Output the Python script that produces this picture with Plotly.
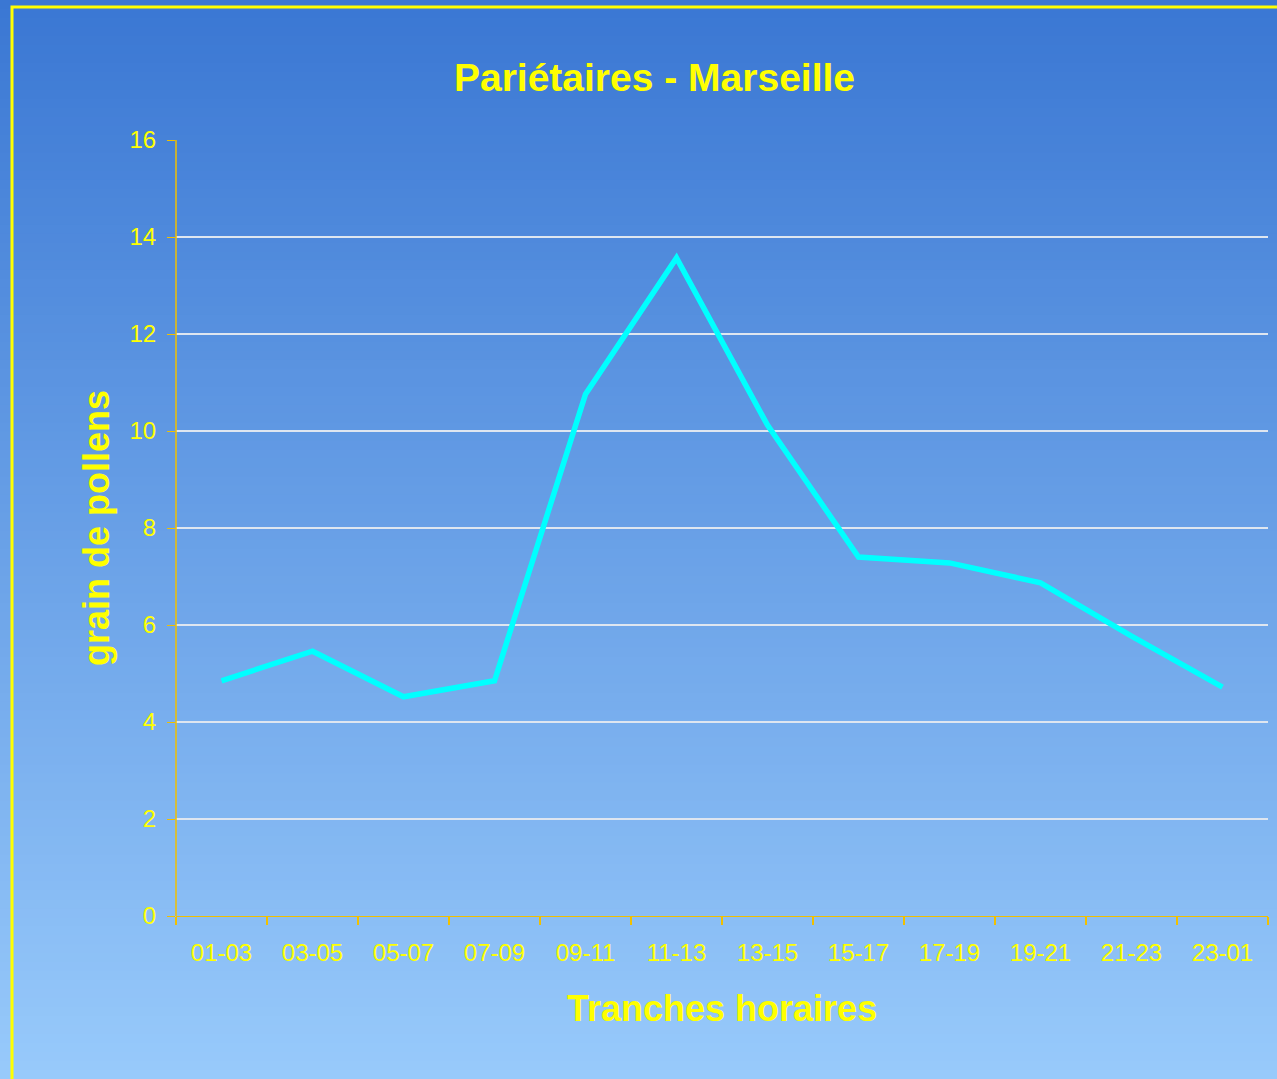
import plotly.graph_objects as go

categories = ["01-03", "03-05", "05-07", "07-09", "09-11", "11-13",
              "13-15", "15-17", "17-19", "19-21", "21-23", "23-01"]
pollen_values = [4.85, 5.46, 4.52, 4.85, 10.76, 13.57, 10.12, 7.40, 7.28, 6.87, 5.77, 4.72]

title_text = "Pariétaires - Marseille"
x_title = "Tranches horaires"
y_title = "grain de pollens"

W, H = 1277, 1079
L, R, T, B = 176, 1268, 140, 916
PW, PH = R - L, B - T

def px_x(px):
    return (px - L) / PW

def px_y(py):
    return (B - py) / PH

FONT = "Arial, 'Liberation Sans', sans-serif"
YEL = "#ffff00"
AXC = "#f0c000"

ncat = len(categories)
boundaries = [i - 0.5 for i in range(ncat + 1)]

fig = go.Figure()
fig.add_trace(go.Scatter(
    x=categories, y=pollen_values, mode="lines",
    line=dict(color="#00ffff", width=5.5),
    showlegend=False, hoverinfo="skip",
))
# invisible trace to carry the boundary-tick axis
fig.add_trace(go.Scatter(
    x=[boundaries[0], boundaries[-1]], y=[0, 0], xaxis="x2", mode="lines",
    line=dict(width=0), opacity=0, showlegend=False, hoverinfo="skip",
))

shapes = []
top = (58, 119, 211)
bot = (152, 202, 251)
n = 120
for i in range(n):
    y0p = H * i / n
    y1p = H * (i + 1) / n + 1
    t = (i + 0.5) / n
    c = tuple(round(top[k] + (bot[k] - top[k]) * t) for k in range(3))
    shapes.append(dict(
        type="rect", xref="paper", yref="paper", layer="below",
        x0=px_x(-2), x1=px_x(W + 2), y0=px_y(y1p), y1=px_y(y0p),
        fillcolor="rgb(%d,%d,%d)" % c, line=dict(width=0),
    ))
# yellow frame
shapes.append(dict(
    type="rect", xref="paper", yref="paper", layer="above",
    x0=px_x(12), x1=px_x(W + 20), y0=px_y(H + 20), y1=px_y(7),
    fillcolor="rgba(0,0,0,0)", line=dict(color=YEL, width=3),
))
# y axis line drawn explicitly
shapes.append(dict(
    type="line", xref="paper", yref="paper", layer="above",
    x0=0, x1=0, y0=0, y1=1, line=dict(color=AXC, width=1.5),
))

fig.update_layout(
    width=W, height=H, autosize=False,
    margin=dict(l=L, r=W - R, t=T, b=H - B, pad=0),
    paper_bgcolor="rgb(120,170,235)",
    plot_bgcolor="rgba(0,0,0,0)",
    shapes=shapes,
    font=dict(family=FONT, color=YEL),
    title=dict(
        text="<b>%s</b>" % title_text,
        font=dict(family=FONT, size=39, color=YEL),
        x=654.5 / W, xref="container", xanchor="center",
        y=1 - 77 / H, yref="container", yanchor="middle",
    ),
    xaxis=dict(
        type="category", range=[-0.5, ncat - 0.5],
        tickmode="linear", tick0=0, dtick=1,
        ticks="", showline=True, linecolor=AXC, linewidth=1,
        showgrid=False, zeroline=False,
        tickfont=dict(family=FONT, size=24, color=YEL),
        ticklabelstandoff=15,
    ),
    xaxis2=dict(
        overlaying="x", anchor="y", side="bottom",
        range=[-0.5, ncat - 0.5], tickmode="array", tickvals=boundaries,
        ticks="outside", ticklen=8, tickwidth=1.5, tickcolor=AXC,
        showticklabels=False, showline=False, showgrid=False, zeroline=False,
    ),
    yaxis=dict(
        range=[0, 16], dtick=2, tick0=0,
        ticks="outside", ticklen=8, tickwidth=1, tickcolor=AXC,
        showline=False,
        showgrid=True, gridcolor="rgb(222,230,240)", gridwidth=1.5,
        zeroline=False,
        tickfont=dict(family=FONT, size=24, color=YEL),
        ticklabelstandoff=6,
    ),
    annotations=[
        dict(text="<b>%s</b>" % x_title, xref="paper", yref="paper",
             x=0.5, y=px_y(1008), xanchor="center", yanchor="middle",
             showarrow=False, font=dict(family=FONT, size=36, color=YEL)),
        dict(text="<b>%s</b>" % y_title, xref="paper", yref="paper",
             x=px_x(96), y=0.5, xanchor="center", yanchor="middle",
             textangle=-90, showarrow=False,
             font=dict(family=FONT, size=36, color=YEL)),
    ],
)

fig.write_html(
    "out.html",
    config={"displayModeBar": False},
    post_script="document.body.style.margin='0';document.body.style.overflow='hidden';",
)
